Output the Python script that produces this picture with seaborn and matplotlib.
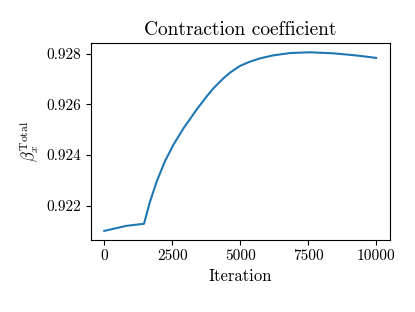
import numpy as np
import pandas as pd
import matplotlib
matplotlib.use("Agg")
import matplotlib.pyplot as plt
import seaborn as sns

# values
iteration = [0, 820, 1460, 1680, 1930, 2230, 2540, 2910, 3400, 3770,
             4010, 4380, 4630, 4990, 5360, 5730, 6220, 6830, 7570,
             8420, 9230, 10000]
beta_total = [0.92100, 0.92120, 0.92128, 0.92215, 0.92296, 0.92375,
              0.92440, 0.92505, 0.92580, 0.92632, 0.92663, 0.92703,
              0.92726, 0.92752, 0.92769, 0.92782, 0.92794, 0.92803,
              0.92806, 0.92802, 0.92794, 0.92784]
y_ticks = [0.922, 0.924, 0.926, 0.928]
x_ticks = [0, 2500, 5000, 7500, 10000]

plt.rcParams['font.family'] = 'serif'
plt.rcParams['font.serif'] = ['cmr10']
plt.rcParams['mathtext.fontset'] = 'cm'
plt.rcParams['axes.formatter.use_mathtext'] = True
plt.rcParams['axes.unicode_minus'] = False

df = pd.DataFrame({'Iteration': iteration, 'beta': beta_total})

fig, ax = plt.subplots(figsize=(4.15, 3.12), dpi=100)
fig.subplots_adjust(left=0.2186, right=0.939, bottom=0.2314, top=0.861)

sns.lineplot(data=df, x='Iteration', y='beta', ax=ax, color='#1f77b4', linewidth=1.5)

ax.set_xticks(x_ticks)
ax.set_xticklabels([str(t) for t in x_ticks])
ax.set_yticks(y_ticks)
ax.set_yticklabels([f'{t:.3f}' for t in y_ticks])
ax.set_xlabel('Iteration', fontsize=12)
ax.set_ylabel(r'$\beta_x^{\mathrm{Total}}$', fontsize=12)
ax.set_title('Contraction coefficient', fontsize=14)
ax.tick_params(labelsize=11)

plt.savefig('out.png', dpi=100)
plt.close()
